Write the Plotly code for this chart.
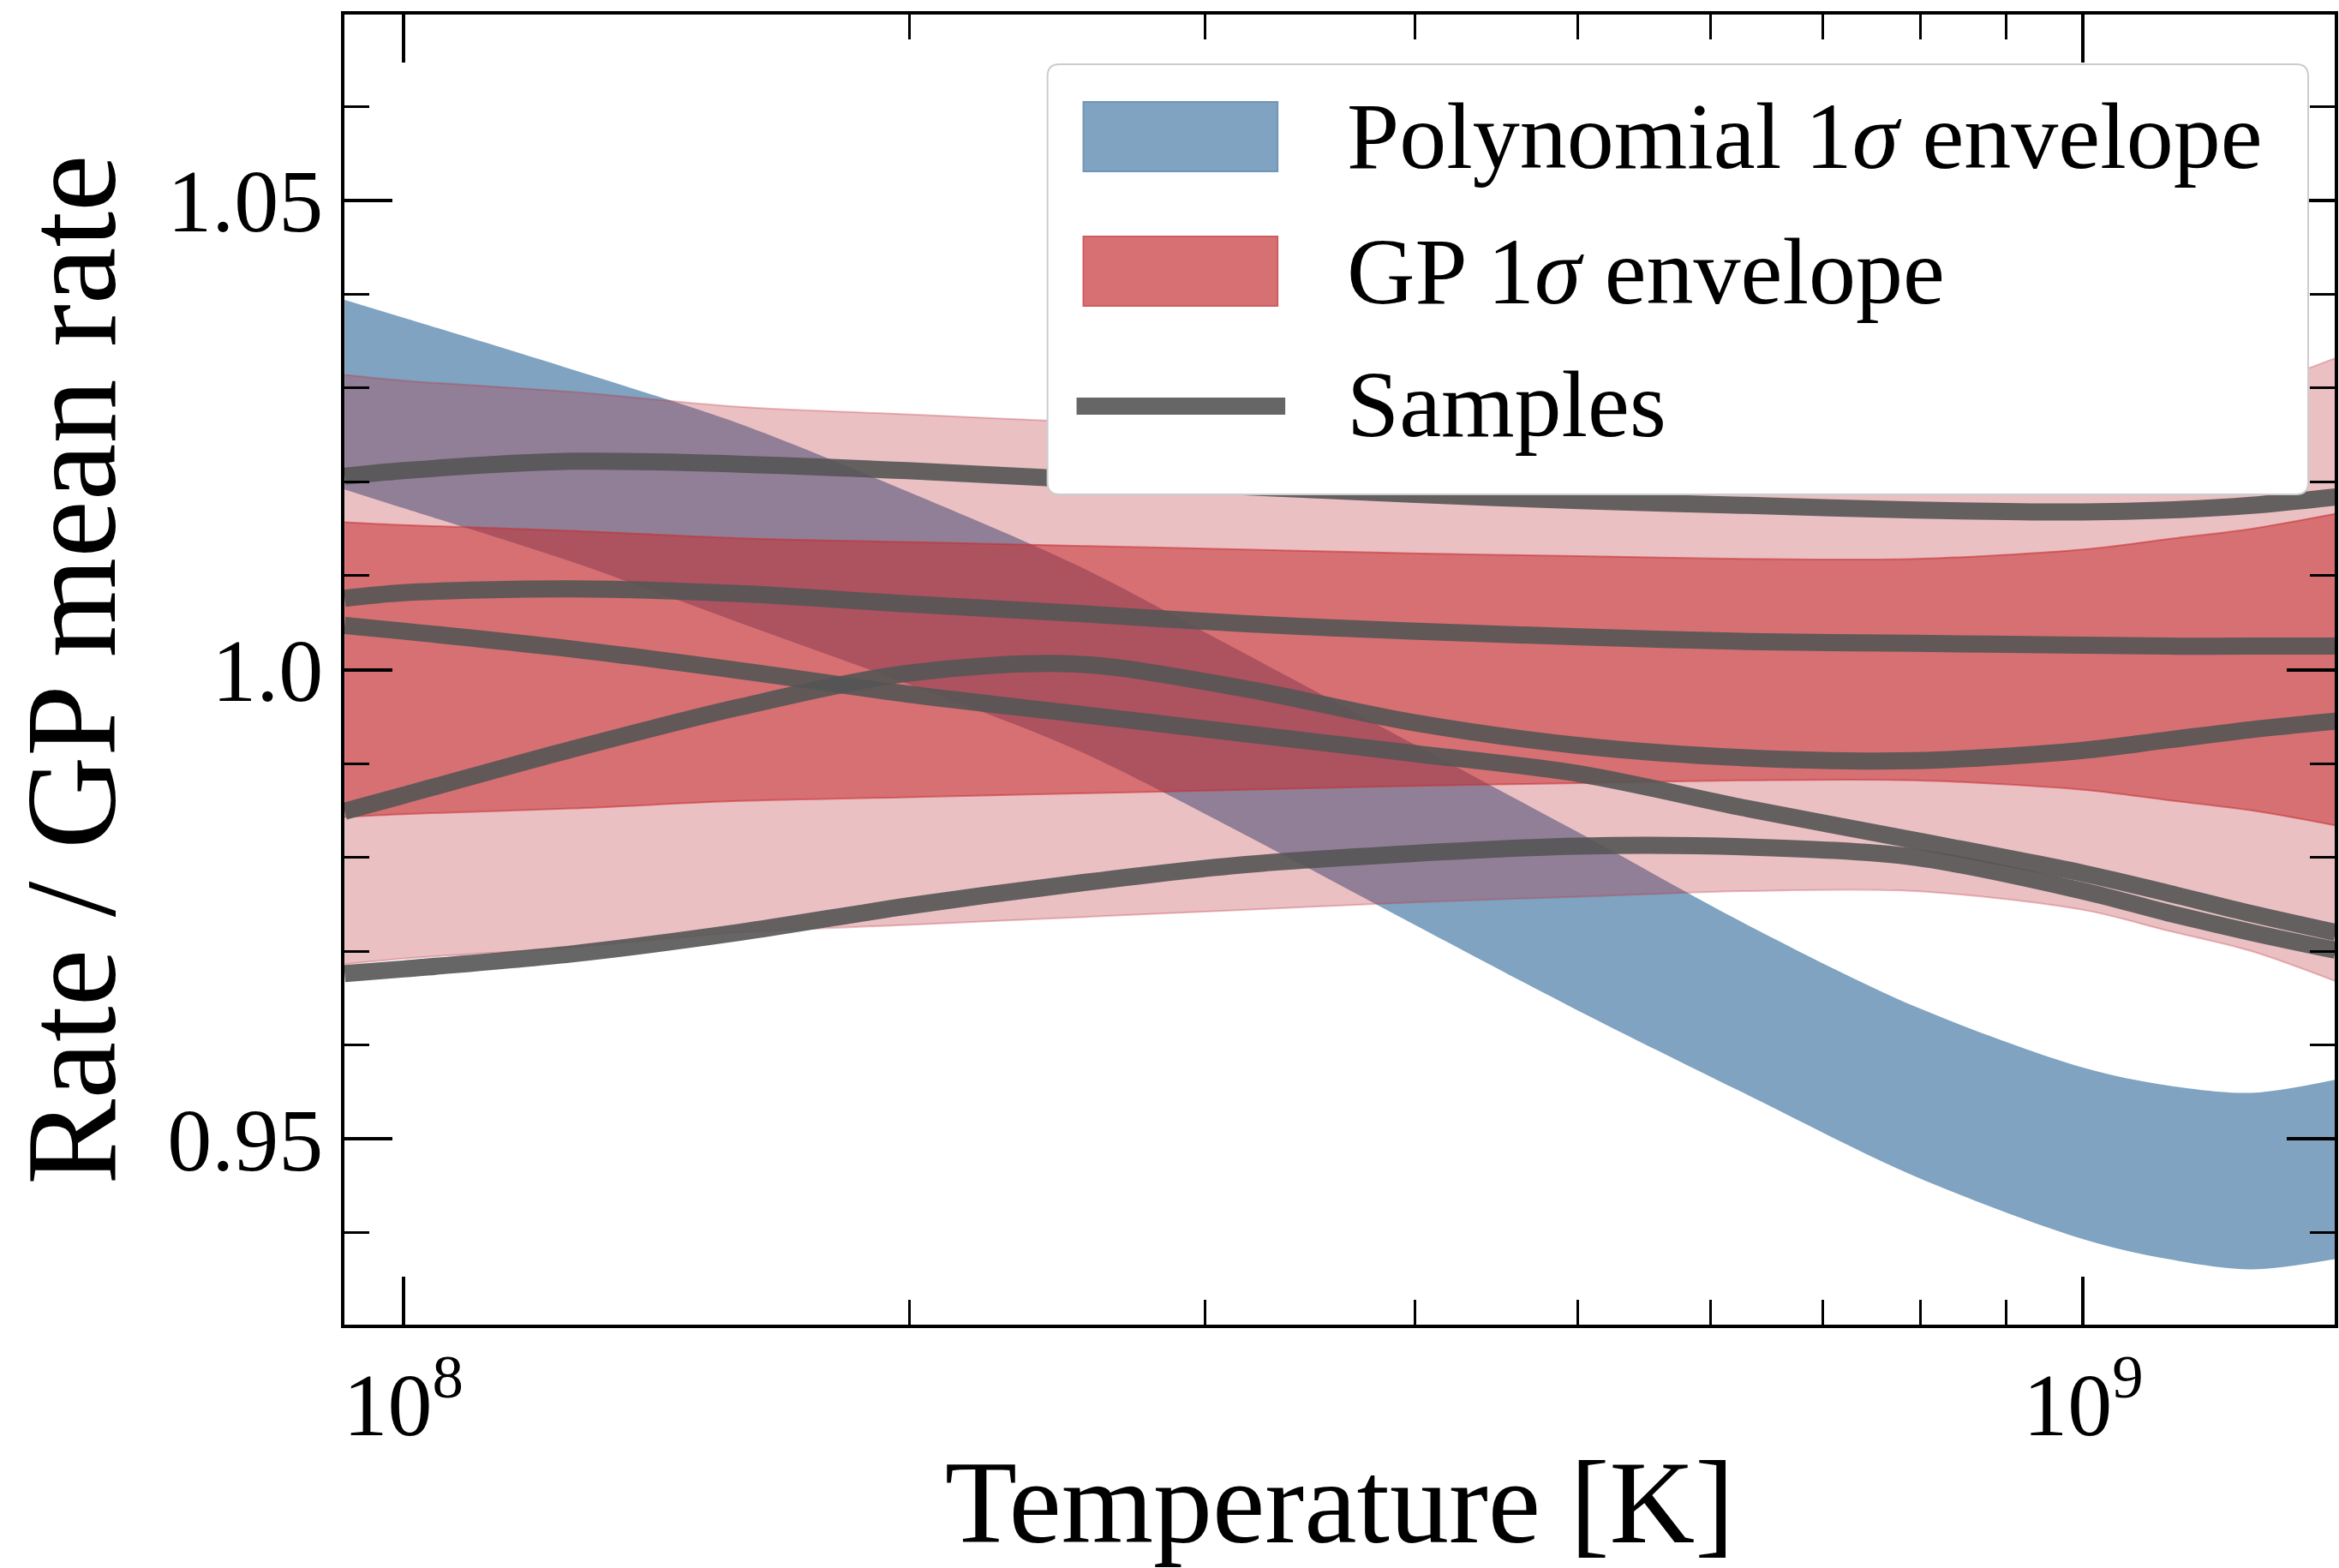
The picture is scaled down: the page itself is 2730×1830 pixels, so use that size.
import plotly.graph_objects as go

# ---------------- data ----------------
temperature_K = [9.226e7, 1.000e8, 1.259e8, 1.585e8, 1.995e8, 2.512e8, 3.162e8,
                 3.981e8, 5.012e8, 6.310e8, 7.943e8, 1.000e9, 1.122e9, 1.259e9, 1.413e9]

poly_upper = [1.0394, 1.0375, 1.0320, 1.0262, 1.0190, 1.0112, 1.0018, 0.9922,
              0.9826, 0.9728, 0.9641, 0.9576, 0.9557, 0.9549, 0.9563]
poly_lower = [1.0192, 1.0172, 1.0115, 1.0050, 0.9985, 0.9915, 0.9825, 0.9730,
              0.9636, 0.9547, 0.9460, 0.9393, 0.9372, 0.9361, 0.9372]

gp1_upper = [1.0157, 1.0154, 1.0148, 1.0140, 1.0136, 1.0132, 1.0128, 1.0124,
             1.0121, 1.0118, 1.0118, 1.0128, 1.0139, 1.0150, 1.0166]
gp1_lower = [0.9843, 0.9846, 0.9852, 0.9860, 0.9864, 0.9868, 0.9872, 0.9876,
             0.9879, 0.9882, 0.9882, 0.9872, 0.9861, 0.9850, 0.9834]
gp2_upper = [1.0314, 1.0308, 1.0296, 1.0280, 1.0272, 1.0264, 1.0256, 1.0248,
             1.0242, 1.0236, 1.0236, 1.0256, 1.0278, 1.0300, 1.0332]
gp2_lower = [0.9686, 0.9692, 0.9704, 0.9720, 0.9728, 0.9736, 0.9744, 0.9752,
             0.9758, 0.9764, 0.9764, 0.9744, 0.9722, 0.9700, 0.9668]

sample_a = [1.0206, 1.0212, 1.0222, 1.0219, 1.0212, 1.0203, 1.0195, 1.0187,
            1.0180, 1.0175, 1.0170, 1.0168, 1.0170, 1.0175, 1.0184]
sample_b = [1.0076, 1.0082, 1.0086, 1.0081, 1.0070, 1.0060, 1.0049, 1.0041,
            1.0035, 1.0030, 1.0028, 1.0026, 1.0025, 1.0025, 1.0025]
sample_c = [1.0047, 1.0041, 1.0022, 0.9999, 0.9974, 0.9953, 0.9932, 0.9911,
            0.9889, 0.9852, 0.9818, 0.9783, 0.9762, 0.9740, 0.9720]
sample_d = [0.9849, 0.9866, 0.9915, 0.9960, 0.9996, 1.0006, 0.9980, 0.9944,
            0.9919, 0.9906, 0.9903, 0.9914, 0.9925, 0.9936, 0.9945]
sample_e = [0.9676, 0.9681, 0.9697, 0.9720, 0.9748, 0.9772, 0.9792, 0.9804,
            0.9812, 0.9811, 0.9800, 0.9764, 0.9741, 0.9720, 0.9701]
samples = [sample_a, sample_b, sample_c, sample_d, sample_e]

legend_labels = ["Polynomial 1<i>σ</i> envelope", "GP 1<i>σ</i> envelope", "Samples"]

x_major_ticks = [1e8, 1e9]
x_major_text = ["10<sup>8</sup>", "10<sup>9</sup>"]
x_minor_ticks = [2e8, 3e8, 4e8, 5e8, 6e8, 7e8, 8e8, 9e8]
y_major_ticks = [0.95, 1.0, 1.05]
y_major_text = ["0.95", "1.0", "1.05"]

# ---------------- style ----------------
W, H = 2730, 1830
L, R, T, B = 402, 2729, 17, 1546          # plot area in pixels
FONT = "Liberation Serif"

BLUE = "rgba(72,124,165,0.70)"
LIGHT_RED = "rgba(188,48,55,0.30)"
DARK_RED = "rgba(197,46,50,0.55)"
SAMPLE = "rgba(85,85,85,0.90)"

fig = go.Figure()

def band(lower, upper, color, edge_w):
    fig.add_trace(go.Scatter(x=temperature_K, y=lower, mode="lines",
                             line=dict(width=edge_w, color=color, shape="spline", smoothing=0.9),
                             showlegend=False, hoverinfo="skip"))
    fig.add_trace(go.Scatter(x=temperature_K, y=upper, mode="lines", fill="tonexty",
                             fillcolor=color,
                             line=dict(width=edge_w, color=color, shape="spline", smoothing=0.9),
                             showlegend=False, hoverinfo="skip"))

band(poly_lower, poly_upper, BLUE, 0)
band(gp2_lower, gp2_upper, LIGHT_RED, 2)
band(gp1_lower, gp1_upper, DARK_RED, 2)

for s in samples:
    fig.add_trace(go.Scatter(x=temperature_K, y=s, mode="lines",
                             line=dict(width=20, color=SAMPLE, shape="spline", smoothing=0.9),
                             showlegend=False, hoverinfo="skip"))

# ---------------- legend (drawn manually) ----------------
pw, ph = R - L, B - T
def px(X):
    return (X - L) / pw
def py(Y):
    return (B - Y) / ph

def rounded_rect(X0, Y0, X1, Y1, r):
    x0, x1 = px(X0), px(X1)
    y0, y1 = py(Y1), py(Y0)   # y0 bottom, y1 top (paper)
    rx, ry = r / pw, r / ph
    return (f"M {x0+rx},{y1} L {x1-rx},{y1} Q {x1},{y1} {x1},{y1-ry} "
            f"L {x1},{y0+ry} Q {x1},{y0} {x1-rx},{y0} L {x0+rx},{y0} "
            f"Q {x0},{y0} {x0},{y0+ry} L {x0},{y1-ry} Q {x0},{y1} {x0+rx},{y1} Z")

shapes = [
    dict(type="path", xref="paper", yref="paper",
         path=rounded_rect(1224, 75, 2698, 577, 14),
         fillcolor="white", line=dict(color="#cccccc", width=2), layer="above"),
    dict(type="rect", xref="paper", yref="paper",
         x0=px(1266), x1=px(1493), y0=py(200), y1=py(119),
         fillcolor="rgb(127,163,192)", line=dict(color="rgb(112,150,184)", width=2), layer="above"),
    dict(type="rect", xref="paper", yref="paper",
         x0=px(1266), x1=px(1493), y0=py(357), y1=py(276),
         fillcolor="rgb(214,112,115)", line=dict(color="rgb(206,92,96)", width=2), layer="above"),
    dict(type="line", xref="paper", yref="paper",
         x0=px(1258), x1=px(1502), y0=py(474), y1=py(474),
         line=dict(color="rgb(102,102,102)", width=20), layer="above"),
]

annotations = []
for label, yc in zip(legend_labels, [159, 317, 472]):
    annotations.append(dict(text=label, xref="paper", yref="paper",
                            x=px(1572), y=py(yc), xanchor="left", yanchor="middle",
                            showarrow=False,
                            font=dict(family=FONT, size=110, color="black")))

fig.update_layout(
    width=W, height=H,
    margin=dict(l=L, r=W - R, t=T, b=H - B, pad=0),
    paper_bgcolor="white", plot_bgcolor="white",
    showlegend=False,
    shapes=shapes, annotations=annotations,
    font=dict(family=FONT, color="black"),
)

fig.update_xaxes(
    type="log", range=[7.9649, 9.1497],
    tickmode="array", tickvals=x_major_ticks, ticktext=x_major_text,
    ticks="inside", ticklen=56, tickwidth=4, tickcolor="black",
    minor=dict(tickmode="array", tickvals=x_minor_ticks, ticks="inside",
               ticklen=29, tickwidth=3, tickcolor="black"),
    showline=True, linewidth=4, linecolor="black", mirror="ticks",
    showgrid=False, zeroline=False,
    tickfont=dict(family=FONT, size=104, color="black"),
    title=dict(text="Temperature [K]", font=dict(family=FONT, size=138, color="black"),
               standoff=15),
)
fig.update_yaxes(
    range=[0.9302, 1.0698],
    tickmode="array", tickvals=y_major_ticks, ticktext=y_major_text,
    ticks="inside", ticklen=56, tickwidth=4, tickcolor="black",
    minor=dict(dtick=0.01, tick0=0.0, ticks="inside", ticklen=29, tickwidth=3,
               tickcolor="black"),
    showline=True, linewidth=4, linecolor="black", mirror="ticks",
    showgrid=False, zeroline=False,
    tickfont=dict(family=FONT, size=104, color="black"),
    title=dict(text="Rate / GP mean rate", font=dict(family=FONT, size=150, color="black"),
               standoff=14),
)

fig.write_html("out.html")
